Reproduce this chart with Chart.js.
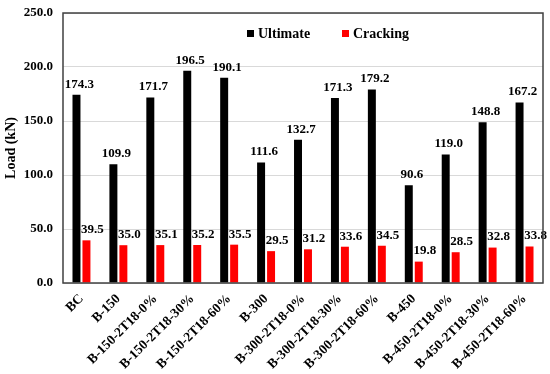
<!DOCTYPE html>
<html>
<head>
<meta charset="utf-8">
<script src="https://cdn.jsdelivr.net/npm/chart.js@4"></script>
<style>
  html, body { margin: 0; padding: 0; background: #fff; }
  #wrap { width: 550px; height: 374px; position: relative; }
</style>
</head>
<body>
<div id="wrap"><canvas id="loadChart"></canvas></div>
<script>
// Specimen names along the x axis
const specimens = [
    'BC', 'B-150', 'B-150-2T18-0%', 'B-150-2T18-30%', 'B-150-2T18-60%',
    'B-300', 'B-300-2T18-0%', 'B-300-2T18-30%', 'B-300-2T18-60%',
    'B-450', 'B-450-2T18-0%', 'B-450-2T18-30%', 'B-450-2T18-60%'
];

// Loads in kN
const ultimateLoad = [174.3, 109.9, 171.7, 196.5, 190.1, 111.6, 132.7, 171.3, 179.2, 90.6, 119.0, 148.8, 167.2];
const crackingLoad = [39.5, 35.0, 35.1, 35.2, 35.5, 29.5, 31.2, 33.6, 34.5, 19.8, 28.5, 32.8, 33.8];

const seriesNames = ['Ultimate', 'Cracking'];
const seriesColors = ['#000000', '#ff0000'];

const FONT = '"Liberation Serif", "Times New Roman", serif';

// value labels on top of every bar (red ones sit a bit further right, as in the original)
const barValues = {
    id: 'barValues',
    afterDatasetsDraw(chart) {
        const ctx = chart.ctx;
        const shift = [3, 6];
        ctx.save();
        ctx.font = 'bold 13px ' + FONT;
        ctx.fillStyle = '#000';
        ctx.textAlign = 'center';
        ctx.textBaseline = 'bottom';
        chart.data.datasets.forEach((ds, i) => {
            chart.getDatasetMeta(i).data.forEach((bar, j) => {
                ctx.fillText(ds.data[j].toFixed(1), bar.x + shift[i], bar.y - 4);
            });
        });
        ctx.restore();
    }
};

// legend drawn inside the plot area, like the original
const innerLegend = {
    id: 'innerLegend',
    afterDraw(chart) {
        const ctx = chart.ctx;
        const spots = [247, 342];
        ctx.save();
        ctx.font = 'bold 14px ' + FONT;
        ctx.textBaseline = 'middle';
        ctx.textAlign = 'left';
        chart.data.datasets.forEach((ds, i) => {
            const x = spots[i];
            ctx.fillStyle = ds.backgroundColor;
            ctx.fillRect(x, 30, 7, 7);
            ctx.fillStyle = '#000';
            ctx.fillText(ds.label, x + 11, 34);
        });
        ctx.restore();
    }
};

// dark frame around the plot area
const plotFrame = {
    id: 'plotFrame',
    afterDraw(chart) {
        const a = chart.chartArea;
        const ctx = chart.ctx;
        ctx.save();
        ctx.strokeStyle = '#404040';
        ctx.lineWidth = 1.5;
        ctx.strokeRect(a.left, a.top, a.right - a.left, a.bottom - a.top);
        ctx.restore();
    }
};

new Chart(document.getElementById('loadChart'), {
    type: 'bar',
    data: {
        labels: specimens,
        datasets: [
            { label: seriesNames[0], data: ultimateLoad, backgroundColor: seriesColors[0] },
            { label: seriesNames[1], data: crackingLoad, backgroundColor: seriesColors[1] }
        ]
    },
    options: {
        responsive: true,
        maintainAspectRatio: false,
        animation: false,
        layout: { padding: { top: 13, right: 7, left: 3, bottom: 0 } },
        datasets: { bar: { categoryPercentage: 0.54, barPercentage: 0.8 } },
        plugins: {
            legend: { display: false },
            tooltip: { enabled: false }
        },
        scales: {
            x: {
                grid: { display: false },
                border: { display: false },
                ticks: {
                    color: '#000',
                    font: { family: FONT, size: 13.5, weight: 'bold' },
                    minRotation: 45,
                    maxRotation: 45,
                    autoSkip: false,
                    padding: 0
                },
                afterFit(scale) {
                    scale.height = 91;
                    scale.paddingLeft = 0;
                    scale.paddingRight = 0;
                }
            },
            y: {
                min: 0,
                max: 250,
                grid: { color: '#d9d9d9', drawTicks: false },
                border: { display: false },
                ticks: {
                    stepSize: 50,
                    color: '#000',
                    padding: 10,
                    font: { family: FONT, size: 13, weight: 'bold' },
                    callback: v => v.toFixed(1)
                },
                title: {
                    display: true,
                    text: 'Load (kN)',
                    color: '#000',
                    font: { family: FONT, size: 14, weight: 'bold' },
                    padding: { top: 0, bottom: 0 }
                },
                afterFit(scale) {
                    scale.width = 60;
                    scale.paddingTop = 0;
                    scale.paddingBottom = 0;
                }
            }
        }
    },
    plugins: [barValues, innerLegend, plotFrame]
});
</script>
</body>
</html>
